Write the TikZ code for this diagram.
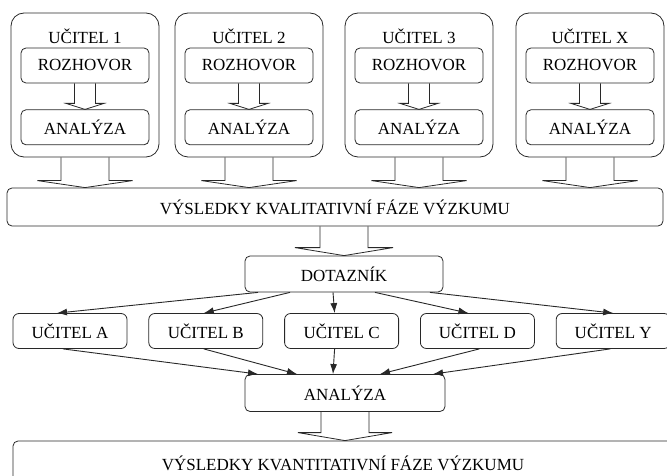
\documentclass[tikz,border=0pt]{standalone}
\usepackage{fontspec}
\setmainfont{Liberation Serif}
\usetikzlibrary{arrows.meta, positioning, calc}
\definecolor{linecolor}{RGB}{40, 40, 40}
\tikzstyle{teacherbox} = [
    rectangle,
    rounded corners=13pt,
    minimum width=148pt,
    minimum height=144pt,
    draw=linecolor,
    line width=0.8pt
]
\tikzstyle{stepbox} = [
    rectangle,
    rounded corners=5pt,
    minimum width=128pt,
    minimum height=35pt,
    text centered,
    draw=linecolor,
    line width=0.8pt
]
\tikzstyle{rowbox} = [
    stepbox,
    rounded corners=6pt,
    minimum width=114pt
]
\tikzstyle{widebox} = [
    stepbox,
    minimum width=656pt,
    minimum height=38pt
]
\tikzstyle{arrow} = [
    ->,
    >={Latex[length=10pt, width=7pt]},
    line width=0.9pt,
    color=linecolor
]
\tikzstyle{blockline} = [
    line width=0.8pt,
    draw=linecolor,
    line join=miter
]
% hollow block arrow: source, target, x reference, shaft half width, head half width, head length
\newcommand{\hollowarrow}[6]{%
    \draw[blockline]
        ($(#3.center |- #1.south)+(-#4,0)$) -- ($(#3.center |- #2.north)+(-#4,-#6)$)
        -- ($(#3.center |- #2.north)+(-#5,-#6)$) -- (#3.center |- #2.north)
        -- ($(#3.center |- #2.north)+(#5,-#6)$) -- ($(#3.center |- #2.north)+(#4,-#6)$)
        -- ($(#3.center |- #1.south)+(#4,0)$);
}

\begin{document}
\begin{tikzpicture}[x=1pt, y=-1pt, font=\fontsize{17}{20}\selectfont]

\useasboundingbox (0,0) rectangle (667,476);

% Qualitative phase - teacher 1
\node[teacherbox] (t1) at (85, 85) {};
\node[anchor=center] (t1title) at (t1.north) [yshift=-24pt] {UČITEL 1};
\node[stepbox, below=35pt of t1.north] (r1) {ROZHOVOR};
\node[stepbox, below=26pt of r1] (a1) {ANALÝZA};

% Teacher 2
\node[teacherbox] (t2) at (249, 85) {};
\node[anchor=center] (t2title) at (t2.north) [yshift=-24pt] {UČITEL 2};
\node[stepbox, below=35pt of t2.north] (r2) {ROZHOVOR};
\node[stepbox, below=26pt of r2] (a2) {ANALÝZA};

% Teacher 3
\node[teacherbox] (t3) at (419, 85) {};
\node[anchor=center] (t3title) at (t3.north) [yshift=-24pt] {UČITEL 3};
\node[stepbox, below=35pt of t3.north] (r3) {ROZHOVOR};
\node[stepbox, below=26pt of r3] (a3) {ANALÝZA};

% Teacher X
\node[teacherbox] (tx) at (590, 85) {};
\node[anchor=center] (txtitle) at (tx.north) [yshift=-24pt] {UČITEL X};
\node[stepbox, below=35pt of tx.north] (rx) {ROZHOVOR};
\node[stepbox, below=26pt of rx] (ax) {ANALÝZA};

% Inner arrows
\hollowarrow{r1}{a1}{r1}{10.5}{19}{6}
\hollowarrow{r2}{a2}{r2}{10.5}{19}{6}
\hollowarrow{r3}{a3}{r3}{10.5}{19}{6}
\hollowarrow{rx}{ax}{rx}{10.5}{19}{6}

% Qualitative results
\node[widebox] (qual) at (335, 207) {VÝSLEDKY KVALITATIVNÍ FÁZE VÝZKUMU};

\hollowarrow{t1}{qual}{t1}{24}{47.5}{7}
\hollowarrow{t2}{qual}{t2}{24}{47.5}{7}
\hollowarrow{t3}{qual}{t3}{24}{47.5}{7}
\hollowarrow{tx}{qual}{tx}{24}{47.5}{7}

% Questionnaire
\node[stepbox, minimum width=198pt, minimum height=36pt] (dot) at (344, 274) {DOTAZNÍK};
\hollowarrow{qual}{dot}{dot}{24}{49}{8}

% Quantitative phase - teachers
\node[rowbox] (ua) at (70, 331) {UČITEL A};
\node[rowbox, right=21pt of ua] (ub) {UČITEL B};
\node[rowbox, right=21pt of ub] (uc) {UČITEL C};
\node[rowbox, right=21pt of uc] (ud) {UČITEL D};
\node[rowbox, right=21pt of ud] (uy) {UČITEL Y};

\draw[arrow] ([xshift=-86pt]dot.south) -- ([xshift=-13pt]ua.north);
\draw[arrow] ([xshift=-54pt]dot.south) -- ([xshift=-2pt]ub.north);
\draw[arrow] ([xshift=-11pt]dot.south) -- ([xshift=-7pt]uc.north);
\draw[arrow] ([xshift=31pt]dot.south) -- ([xshift=-9pt]ud.north);
\draw[arrow] ([xshift=86pt]dot.south) -- (uy.north);

% Analysis
\node[stepbox, minimum width=200pt, minimum height=37pt] (an) at (345, 393) {ANALÝZA};

\draw[arrow] ([xshift=-7pt]ua.south) -- ([xshift=-87pt]an.north);
\draw[arrow] ([xshift=-2pt]ub.south) -- ([xshift=-48pt]an.north);
\draw[arrow] ([xshift=-7pt]uc.south) -- ([xshift=-12pt]an.north);
\draw[arrow] ([xshift=2pt]ud.south) -- ([xshift=35pt]an.north);
\draw[arrow] ([xshift=-3pt]uy.south) -- ([xshift=88pt]an.north);

% Quantitative results
\node[widebox, minimum width=660pt, minimum height=44pt] (quant) at (343, 463) {VÝSLEDKY KVANTITATIVNÍ FÁZE VÝZKUMU};
\hollowarrow{an}{quant}{an}{24}{47}{8}

\end{tikzpicture}
\end{document}
